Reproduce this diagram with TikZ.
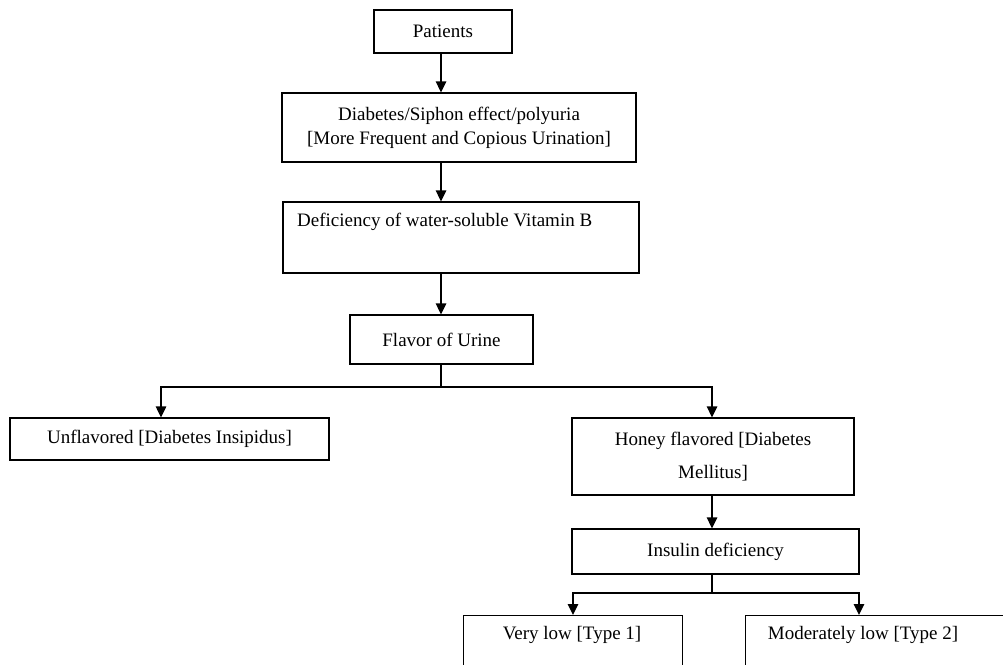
\documentclass[tikz,border=0pt]{standalone}
\usepackage{fontspec}
\setmainfont{Liberation Serif}
\usetikzlibrary{arrows.meta,calc}
\begin{document}
\begin{tikzpicture}[x=1pt,y=-1pt,
 box/.style={draw,line width=1.3pt,rectangle,inner sep=0pt,align=center,font=\fontsize{19}{24}\selectfont},
 txt/.style={inner sep=0pt,font=\fontsize{19}{24}\selectfont},
 arr/.style={line width=1.4pt,-{Triangle[width=10.5pt,length=11pt]}},
 ln/.style={line width=1.4pt}]
\useasboundingbox (0,0) rectangle (1003,664);
\clip (0,0) rectangle (1003,664);
\fill[white] (0,0) rectangle (1003,664);

\node[box,minimum width=138,minimum height=43] (pat) at (443,31.5) {Patients};
\node[box,minimum width=354,minimum height=69] (diab) at (459,127.5) {Diabetes/Siphon effect/polyuria\\{[}More Frequent and Copious Urination]};
\node[box,minimum width=356,minimum height=71] (def) at (461,237.5) {};
\node[txt,anchor=west] (deft) at (297,222) {Deficiency of water-soluble Vitamin B};
\node[box,minimum width=183,minimum height=49] (flav) at (441.5,339.5) {Flavor of Urine};
\node[box,minimum width=319,minimum height=42] (unf) at (169.5,439) {Unflavored [Diabetes Insipidus]};
\node[box,minimum width=282,minimum height=77,font=\fontsize{19}{33}\selectfont] (hon) at (713,456.5) {Honey flavored [Diabetes\\Mellitus]};
\node[box,minimum width=287,minimum height=45] (ins) at (715.5,551.5) {Insulin deficiency};
\node[box,minimum width=219,minimum height=90,anchor=north west] (vl) at (463,615) {};
\node[txt] (vlt) at (572,635) {Very low [Type 1]};
\node[box,minimum width=270,minimum height=90,anchor=north west] (ml) at (745,615) {};
\node[txt] (mlt) at (863,635) {Moderately low [Type 2]};

\coordinate (xa) at (441,0);
\coordinate (xl) at (161,0);
\coordinate (xr) at (712,0);
\coordinate (xvl) at (573,0);
\coordinate (xml) at (859,0);
\coordinate (j1) at (441,387);
\coordinate (j2) at (712,593);

\draw[arr] (xa |- pat.south) -- (xa |- diab.north);
\draw[arr] (xa |- diab.south) -- (xa |- def.north);
\draw[arr] (xa |- def.south) -- (xa |- flav.north);
\draw[ln] (xa |- flav.south) -- (j1);
\draw[arr] (j1) -| (xl |- unf.north);
\draw[arr] (j1) -| (xr |- hon.north);
\draw[arr] (xr |- hon.south) -- (xr |- ins.north);
\draw[ln] (xr |- ins.south) -- (j2);
\draw[arr] (j2) -| (xvl |- vl.north);
\draw[arr] (j2) -| (xml |- ml.north);
\end{tikzpicture}
\end{document}
